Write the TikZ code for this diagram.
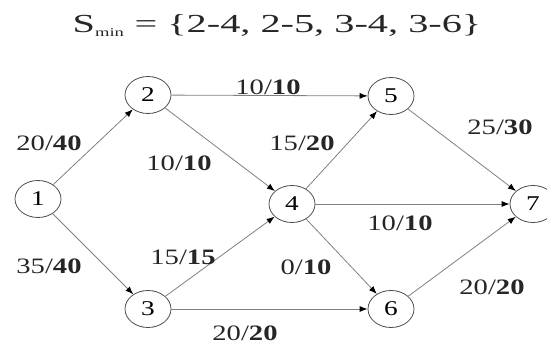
\documentclass[tikz,border=0pt]{standalone}
\usepackage{fontspec}
\setmainfont{Liberation Serif}[FakeStretch=1.3]
\newfontfamily\titlefont{Liberation Serif}[FakeStretch=1.55]
\usepackage{tikz}
\usetikzlibrary{arrows.meta,shapes.geometric}
\newcommand{\flow}[2]{#1/\textbf{#2}}

\begin{document}
\begin{tikzpicture}[
  x=1pt, y=1pt,
  vert/.style={ellipse, draw=black!70, thick, minimum width=46pt,
               minimum height=37pt, inner sep=0pt, font=\fontsize{21}{22}\selectfont},
  lbl/.style={font=\fontsize{22}{24}\selectfont, text=black!85},
  arr/.style={-{Latex[length=8pt,width=6pt,color=black]}, draw=black!50, thick},
]
  \useasboundingbox (0,0) rectangle (547,346);

  % Title
  \node[font=\titlefont\fontsize{26}{28}\selectfont, anchor=base, text=black!85] (title) at (277,313)
    {S\textsubscript{\fontsize{12}{12}\selectfont min} = \{2-4, 2-5, 3-4, 3-6\}};

  % Vertices
  \node[vert] (v1) at (38,147) {1};
  \node[vert] (v2) at (148,251) {2};
  \node[vert] (v3) at (148,37) {3};
  \node[vert] (v4) at (292,142) {4};
  \node[vert] (v5) at (391,250) {5};
  \node[vert] (v6) at (391,37) {6};
  \node[vert] (v7) at (533,142) {7};

  % Arcs
  \draw[arr] (v1) -- (v2);
  \draw[arr] (v1) -- (v3);
  \draw[arr] (v2) -- (v4);
  \draw[arr] (v2) -- (v5);
  \draw[arr] (v3) -- (v4);
  \draw[arr] (v3) -- (v6);
  \draw[arr] (v4) -- (v5);
  \draw[arr] (v4) -- (v6);
  \draw[arr] (v4) -- (v7);
  \draw[arr] (v5) -- (v7);
  \draw[arr] (v6) -- (v7);

  % Flow labels
  \node[lbl] (f12) at (49,203) {\flow{20}{40}};
  \node[lbl] (f13) at (49,80) {\flow{35}{40}};
  \node[lbl] (f24) at (179,183) {\flow{10}{10}};
  \node[lbl] (f25) at (268,259) {\flow{10}{10}};
  \node[lbl] (f34) at (183,89) {\flow{15}{15}};
  \node[lbl] (f36) at (245,13) {\flow{20}{20}};
  \node[lbl] (f45) at (302,203) {\flow{15}{20}};
  \node[lbl] (f46) at (306,79) {\flow{0}{10}};
  \node[lbl] (f47) at (400,123) {\flow{10}{10}};
  \node[lbl] (f57) at (500,219) {\flow{25}{30}};
  \node[lbl] (f67) at (492,59) {\flow{20}{20}};
\end{tikzpicture}
\end{document}
